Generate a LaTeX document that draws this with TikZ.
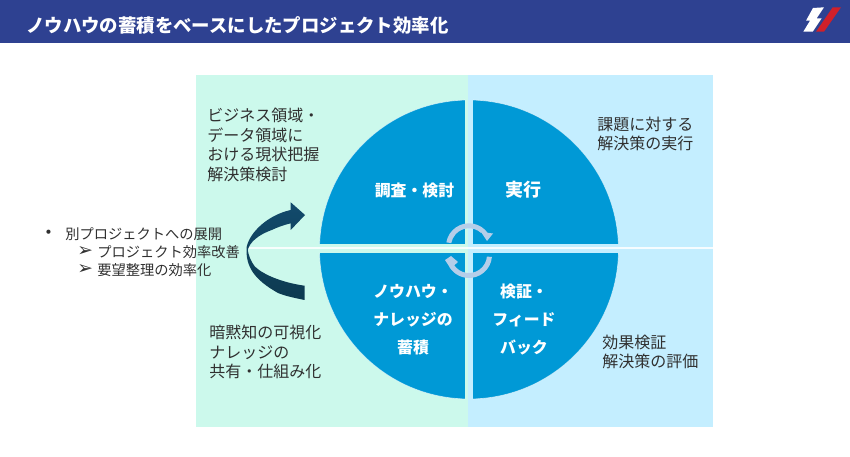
\documentclass[tikz,border=0pt]{standalone}
\usepackage{fontspec}
\setmainfont{Noto Sans CJK JP}
\newfontfamily\symfont{DejaVu Sans}
\definecolor{barblue}{HTML}{2E4191}
\definecolor{mint}{HTML}{CCF9EC}
\definecolor{sky}{HTML}{C4EEFF}
\definecolor{quad}{HTML}{0099D6}
\definecolor{turn}{HTML}{B5CEE9}
\definecolor{logored}{HTML}{D0202A}
\definecolor{ink}{HTML}{303030}
\definecolor{arrowtop}{HTML}{124A6C}
\definecolor{arrowbot}{HTML}{0D3A50}
\tikzset{
  x=0.75pt,y=0.75pt,
  bodytext/.style={text=ink,anchor=west,inner sep=0pt,align=left,font=\fontsize{12}{14.6}\selectfont},
  quadtext/.style={text=white,inner sep=0pt,align=center,font=\fontsize{11.9}{21}\selectfont\bfseries},
  listtext/.style={text=ink,anchor=west,inner sep=0pt,font=\fontsize{10.7}{13}\selectfont},
  listmark/.style={text=ink,anchor=west,inner sep=0pt,font=\fontsize{14}{14}\selectfont},
  turnfill/.style={fill=turn,draw=none},
}
\begin{document}
\begin{tikzpicture}
\useasboundingbox (0,0) rectangle (850,457);
\fill[white] (0,0) rectangle (850,457);
% title bar
\fill[barblue] (0,414) rectangle (850,457);
\node[anchor=west,text=white,inner sep=0pt,font=\fontsize{13.8}{16}\selectfont\bfseries] (title) at (26,432) {ノウハウの蓄積をベースにしたプロジェクト効率化};
% logo
\fill[white] (813,449) -- (824,449.7) -- (816.7,438.7) -- (821.7,438.7) -- (812.7,425.3) -- (803.3,425.3) -- (810,436.3) -- (806,436.3) -- cycle;
\fill[logored] (832.7,449.7) -- (841,449.7) -- (824,425.3) -- (816,425.3) -- cycle;
% backgrounds
\fill[mint] (196,30) rectangle (468,382);
\fill[sky] (468,30) rectangle (713,382);
% disc, then the gaps that cut it into quadrants
\fill[quad,draw=white,draw opacity=.6,line width=.5pt] (469,207.5) circle[radius=149.5];
\fill[mint] (310,204) rectangle (468,213);
\fill[sky] (468,204) rectangle (630,213);
\fill[mint] (465,50) rectangle (468,365);
\fill[sky] (468,50) rectangle (473,365);
% white rule across the panels
\draw[white,opacity=.85,line width=1.6pt] (247,209.3) -- (713,209.3);
% turning arrows
\coordinate (tc) at (469,210.7);
\coordinate (bc) at (469,202);
\fill[turnfill] ([shift={(170:23)}]tc) arc[start angle=170,end angle=36,radius=23]
  -- (493,223.5) -- (487,216) -- (481,225) -- ([shift={(48:18)}]tc) arc[start angle=48,end angle=170,radius=18] -- cycle;
\fill[turnfill] ([shift={(-5:23)}]bc) arc[start angle=-5,end angle=-154,radius=23]
  -- (445,197) -- (451,201) -- (458,195) -- ([shift={(-145:18)}]bc) arc[start angle=-145,end angle=-5,radius=18] -- cycle;
% curved arrow
\shade[top color=arrowtop,bottom color=arrowbot]
  (305,242) -- (290.7,254.7) -- (290.7,247)
  .. controls (268,242) and (250,225) .. (246.7,210.3)
  .. controls (245,190) and (255,177) .. (278,164)
  .. controls (285,161) and (295,159) .. (304.5,157) -- (304.5,171.3)
  .. controls (285,174) and (265,181) .. (255,190.3)
  .. controls (251,195) and (248.5,202) .. (247.7,207)
  .. controls (250,215) and (258,222) .. (271.7,227)
  .. controls (278,230) and (284,232) .. (290.7,233.7) -- (290.7,227) -- cycle;
% quadrant labels
\node[quadtext] (q1) at (414.5,266) {調査・検討};
\node[quadtext,font=\fontsize{13.5}{21}\selectfont\bfseries] (q2) at (523,267) {実行};
\node[quadtext] (q3) at (413,137) {ノウハウ・\\ナレッジの\\蓄積};
\node[quadtext] (q4) at (524,137) {検証・\\フィード\\バック};
% side labels
\node[bodytext] (tl) at (207,312) {ビジネス領域・\\データ領域に\\おける現状把握\\解決策検討};
\node[bodytext] (tr) at (597,323) {課題に対する\\解決策の実行};
\node[bodytext] (bl) at (209,105) {暗黙知の可視化\\ナレッジの\\共有・仕組み化};
\node[bodytext] (br) at (602,105) {効果検証\\解決策の評価};
% list
\node[listtext] (b0) at (44,223) {\symfont •};
\node[listtext] (l0) at (65,223) {別プロジェクトへの展開};
\node[listmark] (b1) at (77,205) {\symfont ➢};
\node[listtext] (l1) at (97,205) {プロジェクト効率改善};
\node[listmark] (b2) at (77,187) {\symfont ➢};
\node[listtext] (l2) at (97,187) {要望整理の効率化};
\end{tikzpicture}
\end{document}
